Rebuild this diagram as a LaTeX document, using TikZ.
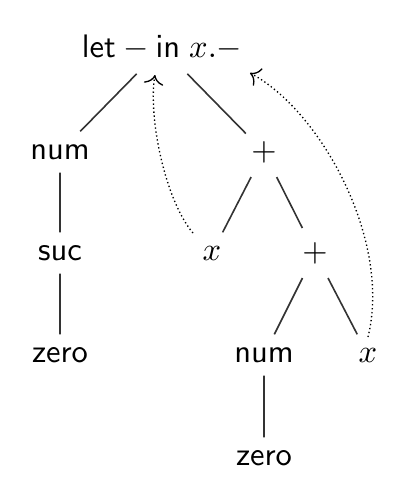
\documentclass[tikz,border=0pt]{standalone}
\usetikzlibrary{calc,arrows.meta}
\begin{document}
\begin{tikzpicture}[x=0.375pt,y=-0.375pt,
  tn/.style={font=\fontsize{10}{12}\sffamily, scale=1.22, transform shape, minimum height=12.3pt, inner xsep=1.5pt, anchor=center},
  opn/.style={minimum height=15pt},
  rootn/.style={minimum height=15.5pt},
  edge/.style={line width=0.6pt, draw=black!80},
  ref/.style={densely dotted, line width=0.5pt, -{To[scale=1.3]}}]
\useasboundingbox (0,0) rectangle (406,485);
\node[tn, rootn] (root) at (162,48) {$\mathsf{let}-\mathsf{in}\;x.-$};
\node[tn] (num1) at (60,152) {num};
\node[tn] (suc) at (60,253) {suc};
\node[tn] (zero1) at (60,355) {zero};
\node[tn, opn] (plus1) at (264,152) {$+$};
\node[tn] (x1) at (212,253) {$x$};
\node[tn, opn] (plus2) at (315,253) {$+$};
\node[tn] (num2) at (264,355) {num};
\node[tn] (x2) at (368,355) {$x$};
\node[tn] (zero2) at (264,458) {zero};
\draw[edge] (root) -- (num1);
\draw[edge] (root) -- (plus1);
\draw[edge] (num1) -- (suc);
\draw[edge] (suc) -- (zero1);
\draw[edge] (plus1) -- (x1);
\draw[edge] (plus1) -- (plus2);
\draw[edge] (plus2) -- (num2);
\draw[edge] (plus2) -- (x2);
\draw[edge] (num2) -- (zero2);
\coordinate (t1) at ($(root)+(-7,27)$);
\coordinate (t2) at ($(root)+(88,25)$);
\coordinate (s1) at ($(x1)+(-19,-20)$);
\coordinate (s2) at ($(x2)+(0,-18)$);
\draw[ref] (s1) .. controls ($(s1)+(-28,-33)$) and ($(t1)+(-7,42)$) .. (t1);
\draw[ref] (s2) .. controls ($(s2)+(24,-97)$) and ($(t2)+(70,37)$) .. (t2);
\end{tikzpicture}
\end{document}
